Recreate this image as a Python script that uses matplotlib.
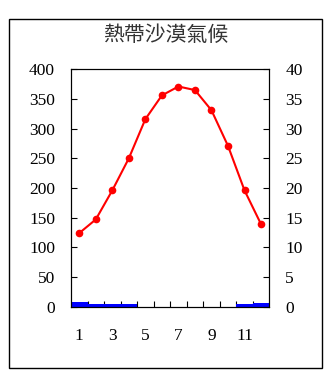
import matplotlib
matplotlib.use("Agg")
import matplotlib.pyplot as plt
from matplotlib.patches import Rectangle
import numpy as np

title = "熱帶沙漠氣候"
months = [1, 2, 3, 4, 5, 6, 7, 8, 9, 10, 11, 12]
precip = [8, 4, 4, 4, 0, 0, 0, 0, 0, 0, 4, 7]          # mm, left axis
temp = [12.4, 14.7, 19.6, 25.0, 31.6, 35.6, 37.1, 36.5, 33.1, 27.1, 19.6, 13.9]  # °C, right axis
xlabels = ["1", "3", "5", "7", "9", "11"]
xlabel_pos = [1, 3, 5, 7, 9, 11]
left_ticks = [0, 50, 100, 150, 200, 250, 300, 350, 400]
right_ticks = [0, 5, 10, 15, 20, 25, 30, 35, 40]

plt.rcParams['font.family'] = ['Liberation Serif', 'DejaVu Serif']

fig = plt.figure(figsize=(3.33, 3.78), dpi=100)
fig.patches.append(Rectangle((0.028, 0.0257), 0.939, 0.9248, transform=fig.transFigure,
                             fill=False, edgecolor='black', linewidth=1.0, zorder=0))

ax = fig.add_axes([0.2132, 0.1886, 0.5955, 0.6281])
ax.bar(months, precip, width=1.0, color='#0000ff', edgecolor='none', zorder=2)
ax.set_xlim(0.5, 12.5)
ax.set_ylim(0, 400)
ax.set_yticks(left_ticks)
ax.set_yticklabels([str(v) for v in left_ticks])
ax.tick_params(axis='y', direction='in', length=4, width=0.8, pad=11.5, labelsize=12.5, colors='black')

ax.set_xticks([m + 0.5 for m in months[:-1]])
ax.set_xticklabels([])
ax.tick_params(axis='x', which='major', direction='in', length=4, width=0.8)
ax.set_xticks(xlabel_pos, minor=True)
ax.set_xticklabels(xlabels, minor=True)
ax.tick_params(axis='x', which='minor', length=0, pad=15, labelsize=12.5)

for s in ax.spines.values():
    s.set_linewidth(0.8)
    s.set_color('black')

ax2 = ax.twinx()
ax2.plot(months, temp, color='#ff0000', linewidth=1.5, marker='o', markersize=5.5,
         markeredgewidth=0, zorder=3)
ax2.set_ylim(0, 40)
ax2.set_yticks(right_ticks)
ax2.set_yticklabels([str(v) for v in right_ticks])
ax2.tick_params(axis='y', direction='in', length=4, width=0.8, pad=11.5, labelsize=12.5)
for s in ax2.spines.values():
    s.set_linewidth(0.8)

fig.text(0.498, 0.907, title, ha='center', va='center', fontsize=15,
         family=['Noto Sans CJK TC', 'DejaVu Sans'], fontweight='light', color='#333333')

fig.savefig("out.png", dpi=100)
